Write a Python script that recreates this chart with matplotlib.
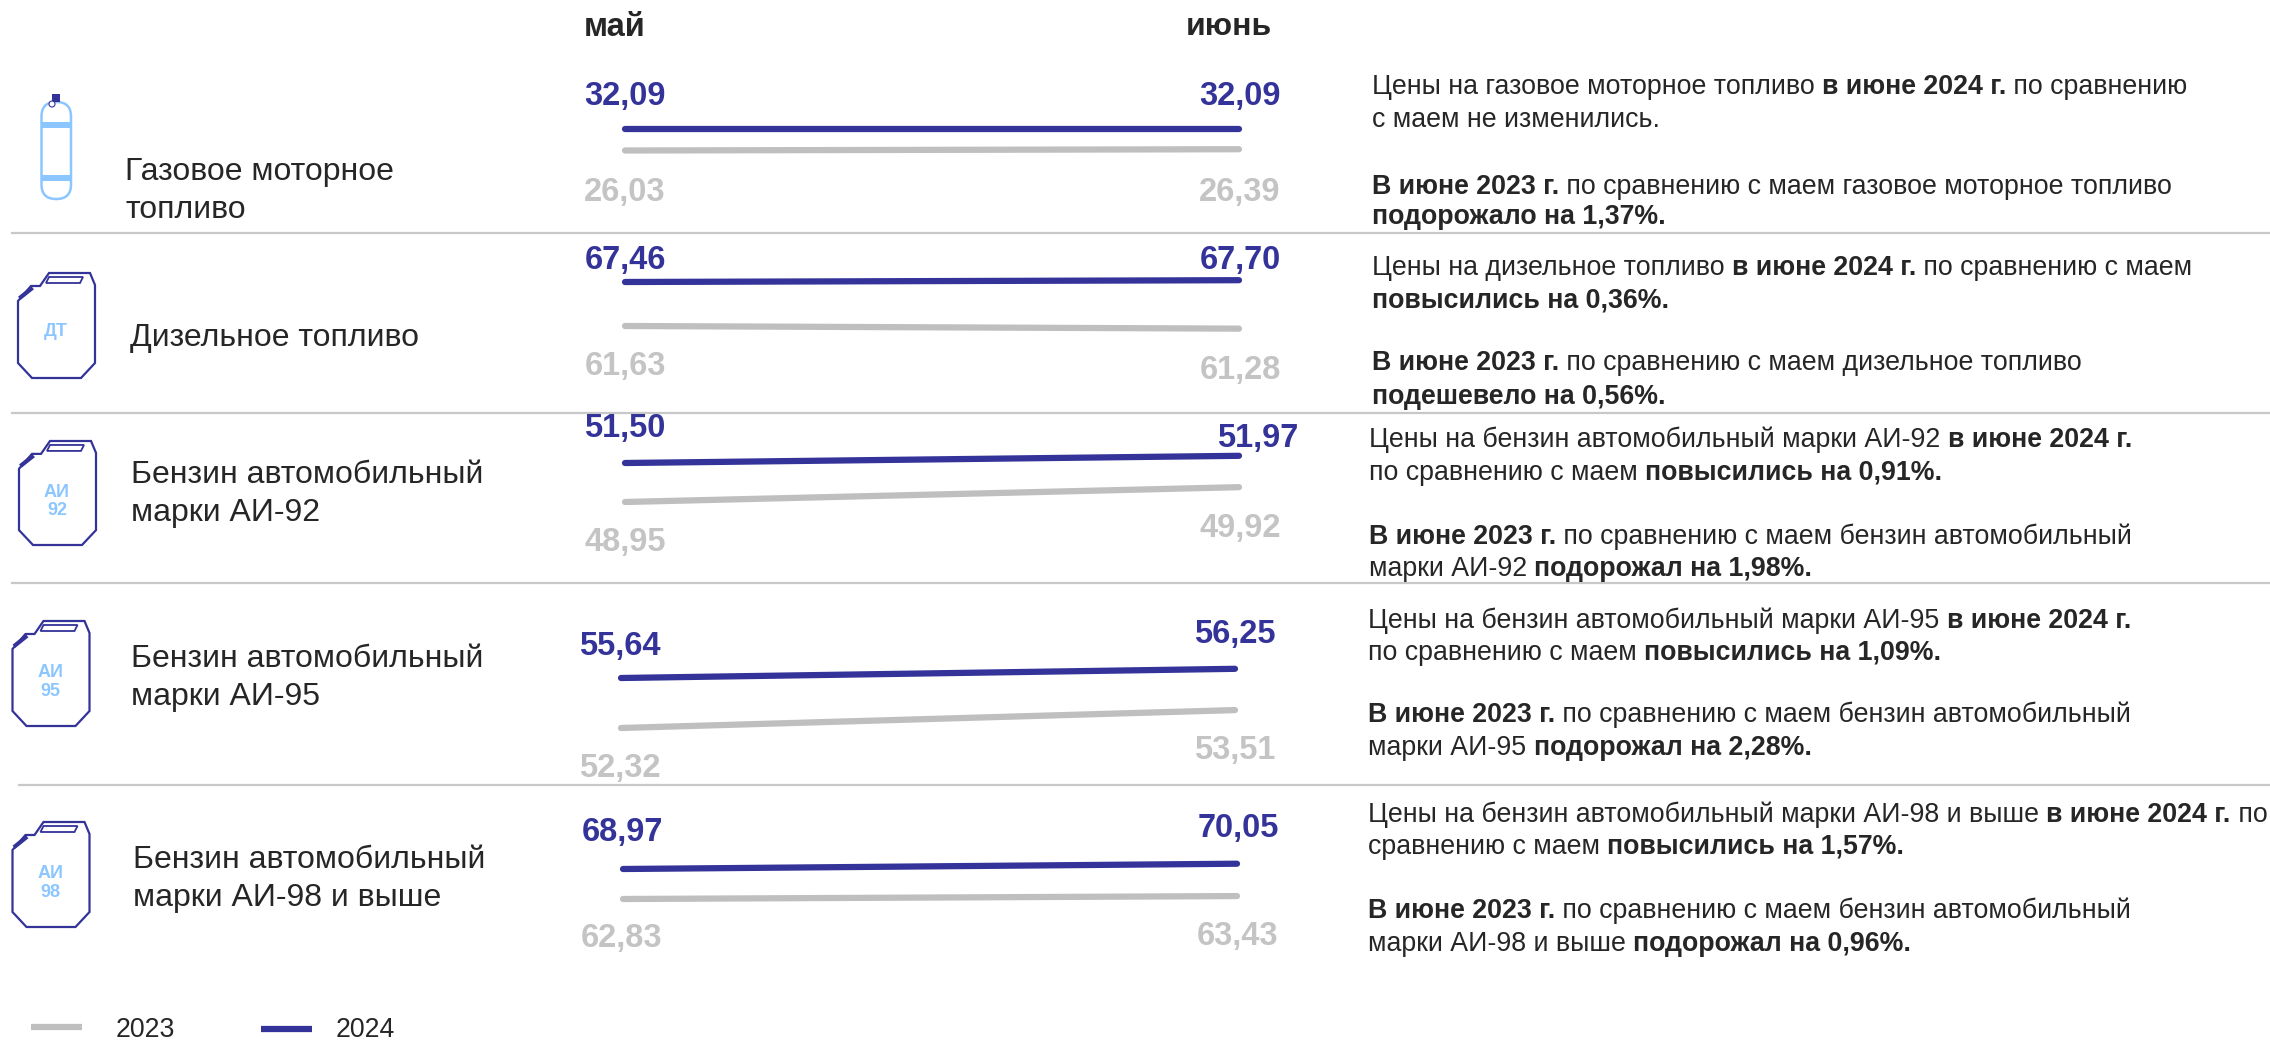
import matplotlib
matplotlib.use('Agg')
import matplotlib.pyplot as plt
from matplotlib.patches import Polygon, FancyBboxPatch, Rectangle, Circle

plt.rcParams['font.family'] = ['Liberation Sans', 'DejaVu Sans']

W, H = 2270, 1040
BLUE = '#333399'
GREY = '#BFBFBF'
GREY_TXT = '#C4C4C4'
LIGHT = '#8CC6FF'
DARK = '#262626'

# данные
months = ['май', 'июнь']
fuels = ['Газовое моторное\nтопливо', 'Дизельное топливо', 'Бензин автомобильный\nмарки АИ-92',
         'Бензин автомобильный\nмарки АИ-95', 'Бензин автомобильный\nмарки АИ-98 и выше']
prices_2023 = [[26.03, 26.39], [61.63, 61.28], [48.95, 49.92], [52.32, 53.51], [62.83, 63.43]]
prices_2024 = [[32.09, 32.09], [67.46, 67.70], [51.50, 51.97], [55.64, 56.25], [68.97, 70.05]]
notes = [
    ['Цены на газовое моторное топливо **в июне 2024 г.** по сравнению', 'с маем не изменились.',
     '**В июне 2023 г.** по сравнению с маем газовое моторное топливо', '**подорожало на 1,37%.**'],
    ['Цены на дизельное топливо **в июне 2024 г.** по сравнению с маем', '**повысились на 0,36%.**',
     '**В июне 2023 г.** по сравнению с маем дизельное топливо', '**подешевело на 0,56%.**'],
    ['Цены на бензин автомобильный марки АИ-92 **в июне 2024 г.**', 'по сравнению с маем **повысились на 0,91%.**',
     '**В июне 2023 г.** по сравнению с маем бензин автомобильный', 'марки АИ-92 **подорожал на 1,98%.**'],
    ['Цены на бензин автомобильный марки АИ-95 **в июне 2024 г.**', 'по сравнению с маем **повысились на 1,09%.**',
     '**В июне 2023 г.** по сравнению с маем бензин автомобильный', 'марки АИ-95 **подорожал на 2,28%.**'],
    ['Цены на бензин автомобильный марки АИ-98 и выше **в июне 2024 г.** по', 'сравнению с маем **повысились на 1,57%.**',
     '**В июне 2023 г.** по сравнению с маем бензин автомобильный', 'марки АИ-98 и выше **подорожал на 0,96%.**'],
]
legend_years = ['2023', '2024']

# разметка в пикселях
line_x = [(625, 1239), (625, 1239), (625, 1239), (621, 1235), (623, 1237)]
line_y = [(129, 150.5), (282, 326), (463, 502), (678, 728), (869, 899)]
label_xy = [(125, 191), (130, 338), (131, 494), (131, 678), (133, 879)]
labels_24 = [[(625, 96), (1240, 96)], [(625, 260), (1240, 260)], [(625, 429), (1258, 439)],
             [(620, 646), (1235, 635)], [(622, 833), (1238, 829)]]
labels_23 = [[(625, 192), (1240, 192)], [(625, 367), (1240, 370)], [(625, 542), (1240, 528)],
             [(620, 769), (1235, 751)], [(622, 939), (1238, 936)]]
note_x = [1372, 1372, 1369, 1368, 1368]
note_y = [[84, 117, 184, 214], [265, 298, 360, 394], [437, 470, 534, 566],
          [618, 650, 712, 745], [812, 844, 908, 941]]
seps = [(12, 233), (12, 413), (12, 583), (19, 785)]

fig = plt.figure(figsize=(W / 100, H / 100), dpi=100)
bg = fig.add_axes([0, 0, 1, 1])
bg.set_xlim(0, W)
bg.set_ylim(H, 0)
bg.axis('off')


def rich(x, y, s, size=19.25):
    # строка с жирными кусками между **
    r = fig.canvas.get_renderer()
    for i, part in enumerate(s.split('**')):
        if not part:
            continue
        t = bg.text(x, y, part, fontsize=size, color=DARK, va='center_baseline', ha='left',
                    fontweight='bold' if i % 2 else 'normal')
        x += t.get_window_extent(r).width


def kanister(x0, y0, h, txt, dy=61):
    k = h / 105
    pts = [(0, 28), (13, 13), (22, 13), (31, 0), (72, 0), (77, 12), (77, 90), (63, 105), (14, 105), (0, 90)]
    bg.add_patch(Polygon([(x0 + a, y0 + b * k) for a, b in pts], closed=True, fc='white', ec=BLUE, lw=1.6))
    hole = [(31, 4), (65, 4), (62, 10), (28, 10)]
    bg.add_patch(Polygon([(x0 + a, y0 + b * k) for a, b in hole], closed=True, fc='white', ec=BLUE, lw=1.3))
    bg.plot([x0 + 3, x0 + 13], [y0 + 24 * k, y0 + 16 * k], color=BLUE, lw=3)
    bg.text(x0 + 38, y0 + dy * k, txt, fontsize=13, color=LIGHT, fontweight='bold',
            ha='center', va='center', linespacing=1.1)


def cylinder():
    bg.add_patch(FancyBboxPatch((41.5 + 14, 102 + 14), 29.5 - 28, 97 - 28, boxstyle='round,pad=14,rounding_size=14.5',
                                fc='white', ec=LIGHT, lw=1.8))
    bg.add_patch(Rectangle((41, 122), 31, 6, fc=LIGHT, ec='none'))
    bg.add_patch(Rectangle((41, 175), 31, 6, fc=LIGHT, ec='none'))
    bg.add_patch(Rectangle((52, 94), 8, 8, fc=BLUE, ec='none'))
    bg.add_patch(Circle((52, 104), 3, fc='white', ec=BLUE, lw=0.8))


# разделители
for x0, y in seps:
    bg.plot([x0, W], [y, y], color='#C8C8C8', lw=1.6)

# заголовки столбцов
bg.text(615, 27, months[0], fontsize=23.5, fontweight='bold', color=DARK, ha='center', va='center')
bg.text(1229, 27, months[1], fontsize=23, fontweight='bold', color=DARK, ha='center', va='center')

# значки
cylinder()
kanister(18, 273, 105, 'ДТ', dy=58)
kanister(19, 441, 104, 'АИ\n92')
kanister(12.5, 621, 105, 'АИ\n95')
kanister(12.5, 822, 105, 'АИ\n98')

for i in range(5):
    x0, x1 = line_x[i]
    y0, y1 = line_y[i]
    # своя ось на каждую строку
    ax = fig.add_axes([x0 / W, 1 - y1 / H, (x1 - x0) / W, (y1 - y0) / H])
    ax.set_xlim(0, 1)
    ax.set_ylim(prices_2023[i][0], prices_2024[i][0])
    ax.axis('off')
    ax.plot([0, 1], prices_2023[i], color=GREY, lw=4.5, solid_capstyle='round', clip_on=False)
    ax.plot([0, 1], prices_2024[i], color=BLUE, lw=4.5, solid_capstyle='round', clip_on=False)

    bg.text(label_xy[i][0], label_xy[i][1], fuels[i], fontsize=23, color=DARK, va='center', ha='left', linespacing=1.33)
    for j in range(2):
        bg.text(*labels_24[i][j], f'{prices_2024[i][j]:.2f}'.replace('.', ','), fontsize=23.5, color=BLUE,
                fontweight='bold', ha='center', va='center')
        bg.text(*labels_23[i][j], f'{prices_2023[i][j]:.2f}'.replace('.', ','), fontsize=23.5, color=GREY_TXT,
                fontweight='bold', ha='center', va='center')
    for s, y in zip(notes[i], note_y[i]):
        rich(note_x[i], y, s)

# легенда
bg.plot([31, 82], [1026.5, 1026.5], color=GREY, lw=4.5, solid_capstyle='butt')
bg.plot([261, 312], [1028.5, 1028.5], color=BLUE, lw=4.5, solid_capstyle='butt')
bg.text(116, 1030, legend_years[0], fontsize=19.2, color=DARK, va='center')
bg.text(336, 1030, legend_years[1], fontsize=19.2, color=DARK, va='center')

fig.savefig('out.png', dpi=100)
